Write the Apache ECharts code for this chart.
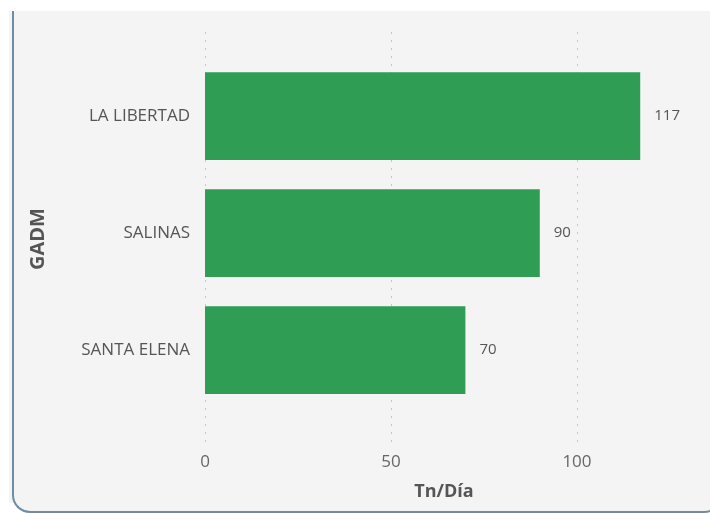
<!DOCTYPE html>
<html>
<head>
<meta charset="utf-8">
<script src="https://cdn.jsdelivr.net/npm/echarts@6/dist/echarts.min.js"></script>
<style>
  html, body { margin: 0; padding: 0; background: #fff; }
  .strip { position: absolute; left: 9px; top: 11px; width: 4px; height: 492px; background: #f4f4f4; }
  .card {
    position: absolute; left: 12px; top: 11px; width: 708px; height: 500px;
    background: #f4f4f4;
    border-left: 2px solid #6b8ea3; border-bottom: 2px solid #6b8ea3;
    border-bottom-left-radius: 18px; border-bottom-right-radius: 18px;
  }
  #chart { position: absolute; left: 0; top: 0; width: 710px; height: 513px; }
</style>
</head>
<body>
<div class="strip"></div>
<div class="card"></div>
<div id="chart"></div>
<script>
const categories = ['SANTA ELENA', 'SALINAS', 'LA LIBERTAD']
const values = [70, 90, 117]
const xTicks = [0, 50, 100]

const chart = echarts.init(document.getElementById('chart'))
const font = '"Open Sans", "DejaVu Sans", sans-serif'
const gridLeft = 205
const gridRight = 710 - 683
const xMax = 128.5

chart.setOption({
  animation: false,
  textStyle: { fontFamily: font },
  grid: [
    { left: gridLeft, right: gridRight, top: 57.5, height: 351 },
    { left: gridLeft, right: gridRight, top: 32, bottom: 513 - 446 }
  ],
  xAxis: [
    {
      gridIndex: 0, type: 'value', min: 0, max: xMax,
      axisLine: { show: false }, axisTick: { show: false },
      axisLabel: { show: false }, splitLine: { show: false }
    },
    {
      gridIndex: 1, type: 'value', min: 0, max: xMax, interval: 50,
      name: 'Tn/Día', nameLocation: 'middle', nameGap: 37,
      nameTextStyle: { fontSize: 18, fontWeight: 'bold', color: '#555', fontFamily: font },
      axisLine: { show: false }, axisTick: { show: false },
      axisLabel: {
        fontSize: 17, color: '#666', margin: 8, showMaxLabel: false,
        formatter: v => (xTicks.includes(v) ? String(v) : '')
      },
      splitLine: {
        show: true,
        lineStyle: { type: [2, 6], width: 1, color: ['#c8c8c8', '#c8c8c8', '#c8c8c8', 'rgba(0,0,0,0)'] }
      }
    }
  ],
  yAxis: [
    {
      gridIndex: 0, type: 'category', data: categories,
      axisLine: { show: false }, axisTick: { show: false },
      axisLabel: { fontSize: 17, color: '#555', margin: 15 }
    },
    {
      gridIndex: 1, type: 'value', min: 0, max: 1,
      name: 'GADM', nameLocation: 'middle', nameRotate: 90, nameGap: 157,
      nameTextStyle: { fontSize: 20, fontWeight: 'bold', color: '#555', fontFamily: font },
      axisLine: { show: false }, axisTick: { show: false },
      axisLabel: { show: false }, splitLine: { show: false }
    }
  ],
  series: [
    {
      type: 'bar', xAxisIndex: 0, yAxisIndex: 0, z: 5,
      data: values, barCategoryGap: '25%',
      itemStyle: { color: '#2f9e54' },
      label: { show: true, position: 'right', distance: 14, fontSize: 15, color: '#555', fontFamily: font }
    }
  ]
})
</script>
</body>
</html>
